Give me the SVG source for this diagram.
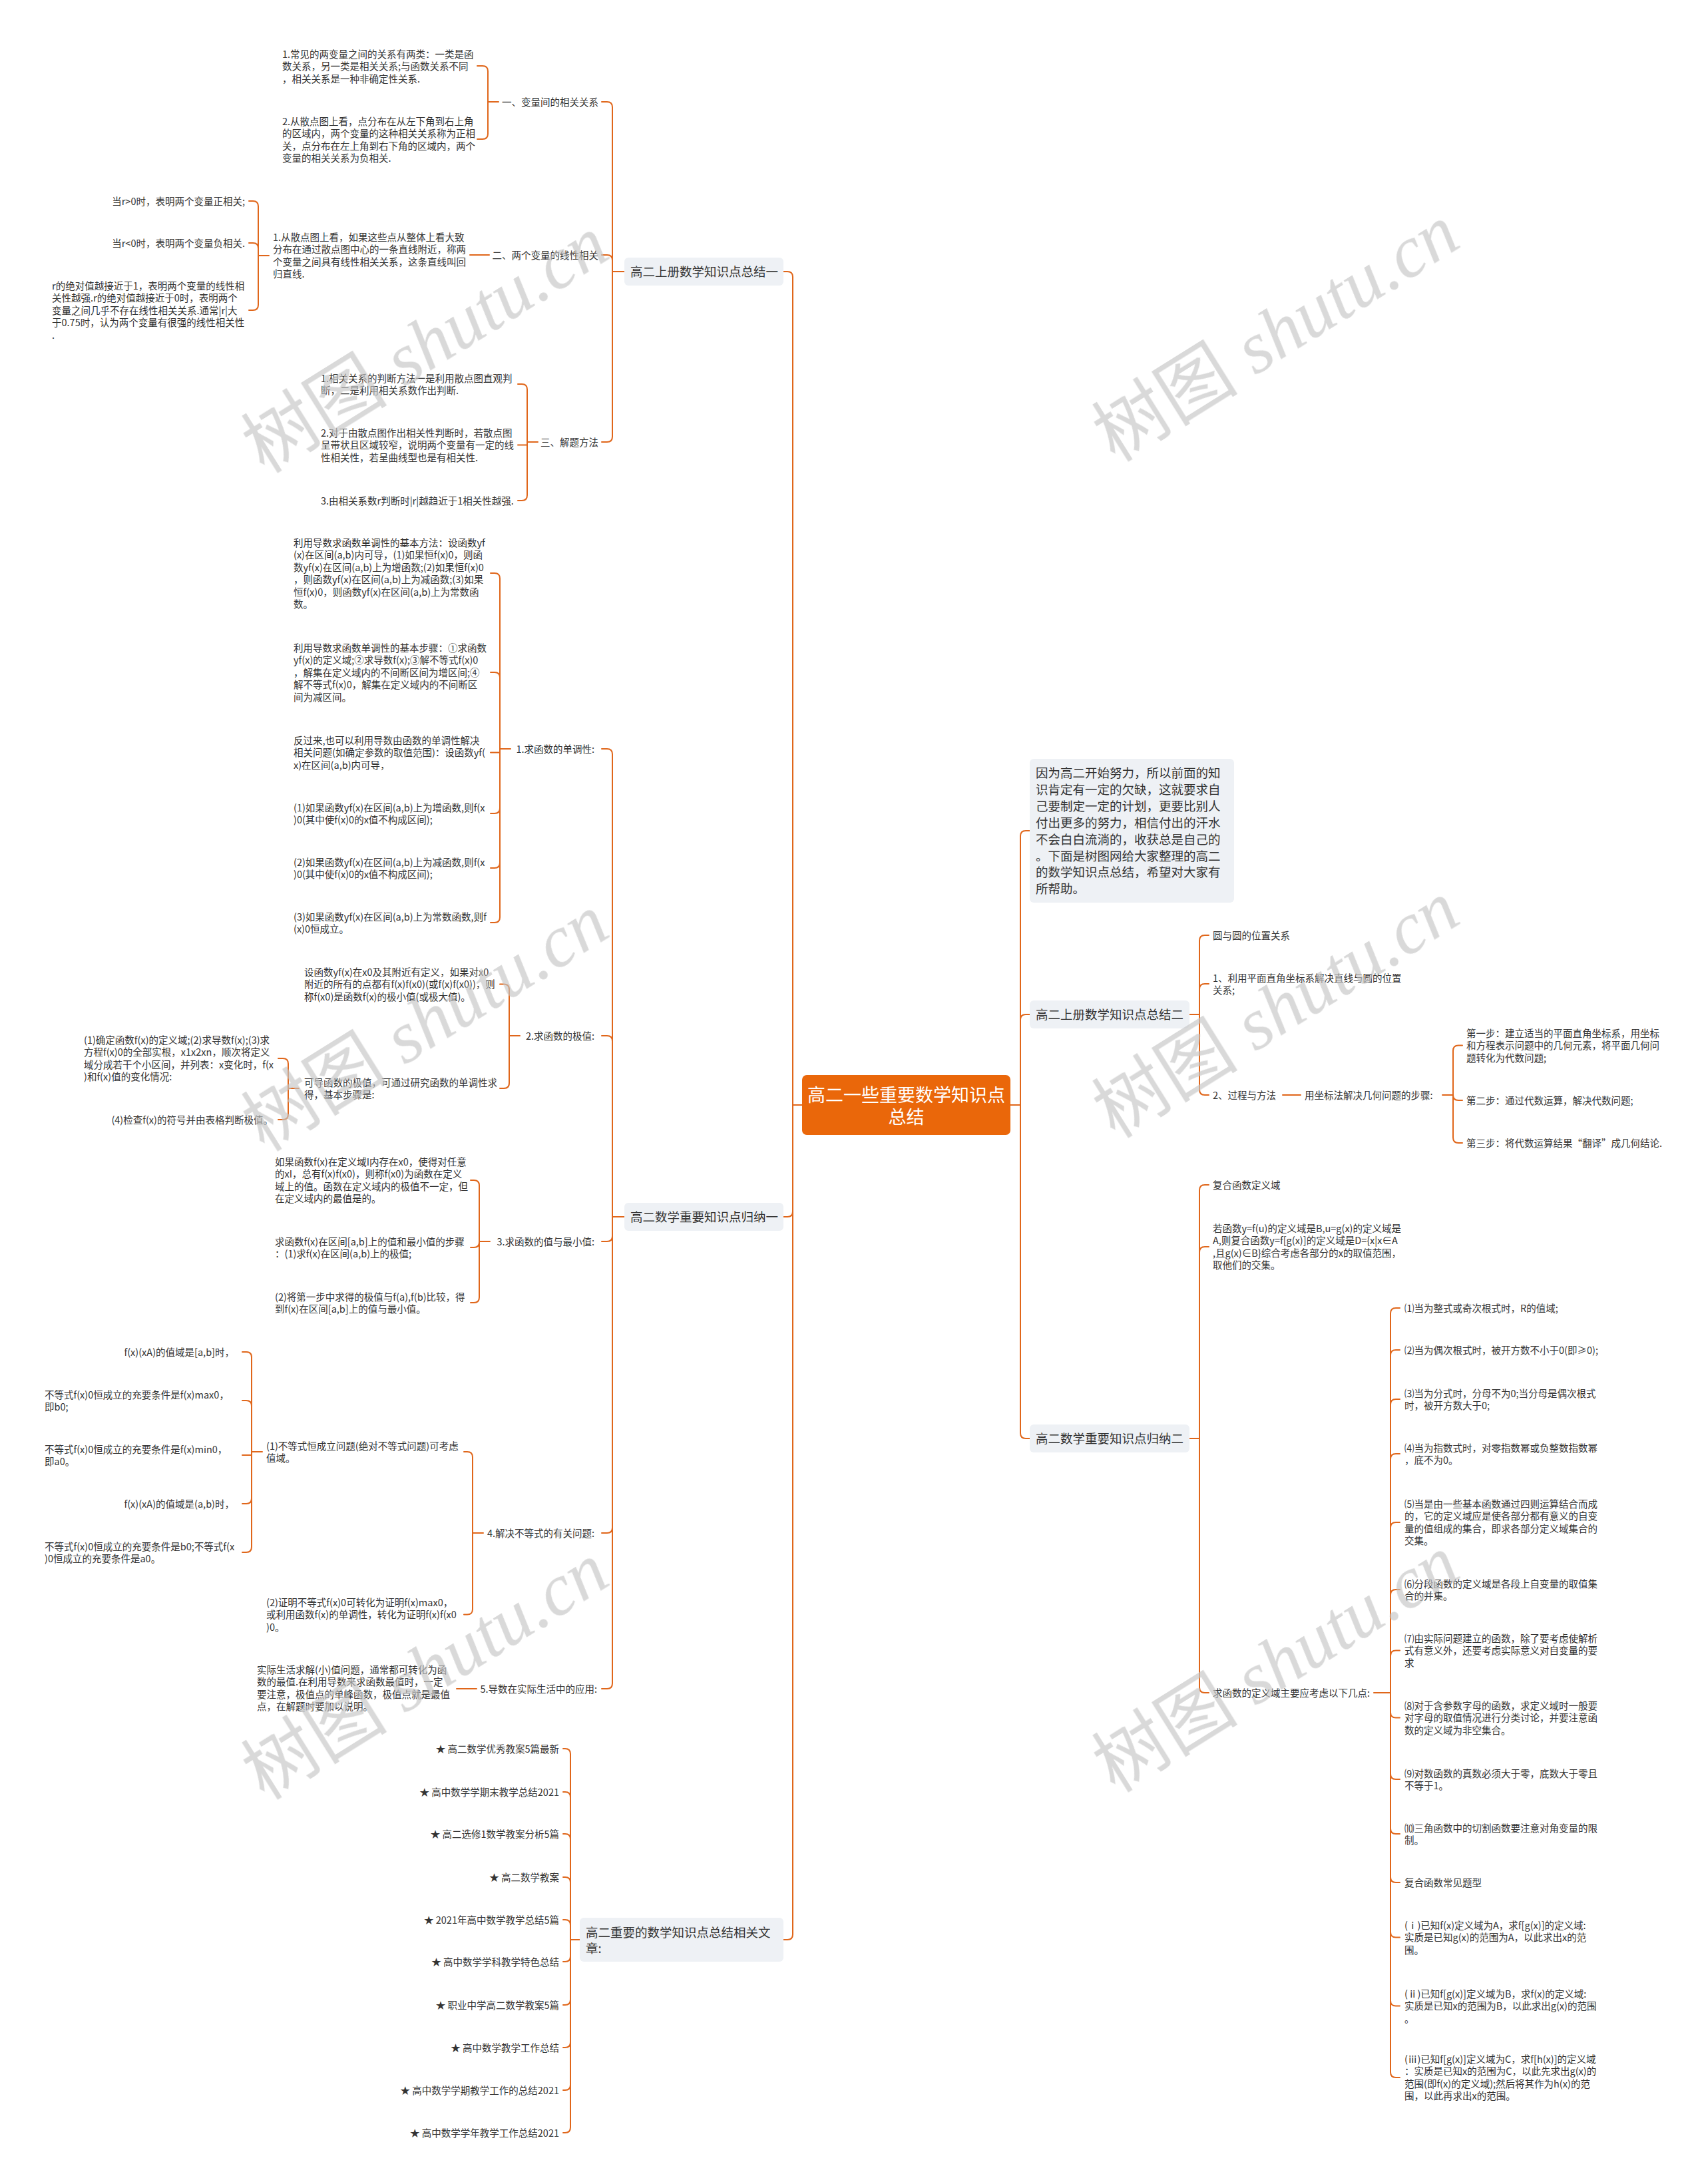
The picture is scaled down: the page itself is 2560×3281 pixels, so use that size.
<svg xmlns="http://www.w3.org/2000/svg" width="2560" height="3281" viewBox="0 0 2560 3281">
<defs>
<style>
.s{font-family:"Noto Sans CJK SC","Noto Sans",sans-serif;font-size:14.5px;fill:#333}
.m{font-size:18.5px}
.e{text-anchor:end}
.lk{fill:none;stroke:#E0661A;stroke-width:2;stroke-linecap:round;stroke-linejoin:round}
.box{fill:#EEF1F5}
.root{fill:#EA670A}
.rt{font-family:"Noto Sans CJK SC","Noto Sans",sans-serif;font-size:27px;fill:#fff;text-anchor:middle}
.wm{font-family:"Liberation Serif",serif;font-style:italic;font-size:110px;fill:#c4c4c4;opacity:.65;text-anchor:middle}
.wc{font-family:"Noto Sans CJK SC",sans-serif;font-style:normal}
</style>
</defs>
<rect width="2560" height="3281" fill="#fff"/>

<g id="connectors" class="lk">
<path d="M1205 1660H1191M1191 1660V416Q1191 408 1183 408H1177M1191 1660V1820Q1191 1828 1183 1828H1177M1191 1660V2906Q1191 2914 1183 2914H1177"/>
<path d="M1518 1660H1533M1533 1660V1256Q1533 1248 1541 1248H1547M1533 1660V1532Q1533 1524 1541 1524H1547M1533 1660V2153Q1533 2161 1541 2161H1547"/>
<path d="M938 408H920M920 408V161Q920 153 912 153H904M920 408V391Q920 383 912 383H904M920 408V656Q920 664 912 664H904"/>
<path d="M749 153H733M733 153V107Q733 99 725 99H717M733 153V201Q733 209 725 209H717"/>
<path d="M735 383H706"/>
<path d="M404 384H388M388 384V310Q388 302 380 302H374M388 384V373Q388 365 380 365H374M388 384V458Q388 466 380 466H374"/>
<path d="M808 664H792M792 664V668.5H778M792 664V585Q792 577 784 577H778M792 664V744Q792 752 784 752H778"/>
<path d="M938 1828H920M920 1828V1133Q920 1125 912 1125H904M920 1828V1564Q920 1556 912 1556H904M920 1828V1857Q920 1865 912 1865H904M920 1828V2295Q920 2303 912 2303H904M920 1828V2529Q920 2537 912 2537H904"/>
<path d="M767 1125H751M751 1125V869Q751 861 743 861H737M751 1125V1018Q751 1010 743 1010H737M751 1125V1130.5H737M751 1125V1214Q751 1222 743 1222H737M751 1125V1296Q751 1304 743 1304H737M751 1125V1378Q751 1386 743 1386H737"/>
<path d="M781 1556H765M765 1556V1486.5Q765 1478.5 757 1478.5H751M765 1556V1627Q765 1635 757 1635H751"/>
<path d="M449 1635H433M433 1635V1598Q433 1590 425 1590H418M433 1635V1674Q433 1682 425 1682H418"/>
<path d="M736 1865H720M720 1865V1781Q720 1773 712 1773H707M720 1865V1866Q720 1874 712 1874H707M720 1865V1949Q720 1957 712 1957H707"/>
<path d="M726 2303H710M710 2303V2189Q710 2181 702 2181H697M710 2303V2417.5Q710 2425.5 702 2425.5H697"/>
<path d="M394 2181H378M378 2181V2039Q378 2031 370 2031H364M378 2181V2112Q378 2104 370 2104H364M378 2181V2186H364M378 2181V2251Q378 2259 370 2259H364M378 2181V2324Q378 2332 370 2332H364"/>
<path d="M716 2537H686"/>
<path d="M871 2914H857M857 2914V2635Q857 2627 849 2627H846M857 2914V2700Q857 2692 849 2692H846M857 2914V2763Q857 2755 849 2755H846M857 2914V2828Q857 2820 849 2820H846M857 2914V2892Q857 2884 849 2884H846M857 2914V2939Q857 2947 849 2947H846M857 2914V3004Q857 3012 849 3012H846M857 2914V3068Q857 3076 849 3076H846M857 2914V3132Q857 3140 849 3140H846M857 2914V3196Q857 3204 849 3204H846"/>
<path d="M1787 1524H1802M1802 1524V1413Q1802 1405 1810 1405H1816M1802 1524V1486Q1802 1478 1810 1478H1816M1802 1524V1637Q1802 1645 1810 1645H1816"/>
<path d="M1927 1645H1954"/>
<path d="M2167 1645H2183M2183 1645V1578.5Q2183 1570.5 2191 1570.5H2197M2183 1645Q2183 1653 2191 1653H2197M2183 1645V1709Q2183 1717 2191 1717H2197"/>
<path d="M1787 2161H1802M1802 2161V1788Q1802 1780 1810 1780H1816M1802 2161V1881Q1802 1873 1810 1873H1816M1802 2161V2535Q1802 2543 1810 2543H1816"/>
<path d="M2064 2543H2089M2089 2543V1973Q2089 1965 2097 1965H2103M2089 2543V2036Q2089 2028 2097 2028H2103M2089 2543V2110Q2089 2102 2097 2102H2103M2089 2543V2192Q2089 2184 2097 2184H2103M2089 2543V2295Q2089 2287 2097 2287H2103M2089 2543V2396Q2089 2388 2097 2388H2103M2089 2543V2487.5Q2089 2479.5 2097 2479.5H2103M2089 2543V2572.5Q2089 2580.5 2097 2580.5H2103M2089 2543V2665Q2089 2673 2097 2673H2103M2089 2543V2747Q2089 2755 2097 2755H2103M2089 2543V2820Q2089 2828 2097 2828H2103M2089 2543V2902.5Q2089 2910.5 2097 2910.5H2103M2089 2543V3005.5Q2089 3013.5 2097 3013.5H2103M2089 2543V3113Q2089 3121 2097 3121H2103"/>
</g>

<g id="root">
<rect class="root" x="1205" y="1615" width="313" height="90" rx="7"/>
<text class="rt"><tspan x="1361.5" y="1655">高二一些重要数学知识点</tspan><tspan x="1361.5" y="1688">总结</tspan></text>
</g>

<g id="n_a">
<rect class="box" x="938" y="387" width="239" height="42" rx="6"/>
<text class="s m" x="947" y="415">高二上册数学知识点总结一</text>
</g>
<g id="n_a1"><text class="s e" x="899" y="158.5">一、变量间的相关关系</text></g>
<g id="n_a1_1"><text class="s"><tspan x="424" y="86.5">1.常见的两变量之间的关系有两类：一类是函</tspan><tspan x="424" y="105">数关系，另一类是相关关系;与函数关系不同</tspan><tspan x="424" y="123.5">，相关关系是一种非确定性关系.</tspan></text></g>
<g id="n_a1_2"><text class="s"><tspan x="424" y="187.5">2.从散点图上看，点分布在从左下角到右上角</tspan><tspan x="424" y="206">的区域内，两个变量的这种相关关系称为正相</tspan><tspan x="424" y="224.5">关，点分布在左上角到右下角的区域内，两个</tspan><tspan x="424" y="243">变量的相关关系为负相关.</tspan></text></g>
<g id="n_a2"><text class="s e" x="899" y="388.5">二、两个变量的线性相关</text></g>
<g id="n_a2_1"><text class="s"><tspan x="410" y="361.5">1.从散点图上看，如果这些点从整体上看大致</tspan><tspan x="410" y="380">分布在通过散点图中心的一条直线附近，称两</tspan><tspan x="410" y="398.5">个变量之间具有线性相关关系，这条直线叫回</tspan><tspan x="410" y="417">归直线.</tspan></text></g>
<g id="n_a2_1_1"><text class="s e" x="368" y="307.5">当r&gt;0时，表明两个变量正相关;</text></g>
<g id="n_a2_1_2"><text class="s e" x="368" y="370.5">当r&lt;0时，表明两个变量负相关.</text></g>
<g id="n_a2_1_3"><text class="s"><tspan x="78" y="434.5">r的绝对值越接近于1，表明两个变量的线性相</tspan><tspan x="78" y="453">关性越强.r的绝对值越接近于0时，表明两个</tspan><tspan x="78" y="471.5">变量之间几乎不存在线性相关关系.通常|r|大</tspan><tspan x="78" y="490">于0.75时，认为两个变量有很强的线性相关性</tspan><tspan x="78" y="508.5">.</tspan></text></g>
<g id="n_a3"><text class="s e" x="899" y="669.5">三、解题方法</text></g>
<g id="n_a3_1"><text class="s"><tspan x="482" y="573.5">1.相关关系的判断方法一是利用散点图直观判</tspan><tspan x="482" y="592">断，二是利用相关系数作出判断.</tspan></text></g>
<g id="n_a3_2"><text class="s"><tspan x="482" y="655.5">2.对于由散点图作出相关性判断时，若散点图</tspan><tspan x="482" y="674">呈带状且区域较窄，说明两个变量有一定的线</tspan><tspan x="482" y="692.5">性相关性，若呈曲线型也是有相关性.</tspan></text></g>
<g id="n_a3_3"><text class="s" x="482" y="757.5">3.由相关系数r判断时|r|越趋近于1相关性越强.</text></g>

<g id="n_b">
<rect class="box" x="938" y="1807" width="239" height="42" rx="6"/>
<text class="s m" x="947" y="1835">高二数学重要知识点归纳一</text>
</g>
<g id="n_b1"><text class="s e" x="893" y="1130.5">1.求函数的单调性:</text></g>
<g id="n_b1_1"><text class="s"><tspan x="441" y="820.5">利用导数求函数单调性的基本方法：设函数yf</tspan><tspan x="441" y="839">(x)在区间(a,b)内可导，(1)如果恒f(x)0，则函</tspan><tspan x="441" y="857.5">数yf(x)在区间(a,b)上为增函数;(2)如果恒f(x)0</tspan><tspan x="441" y="876">，则函数yf(x)在区间(a,b)上为减函数;(3)如果</tspan><tspan x="441" y="894.5">恒f(x)0，则函数yf(x)在区间(a,b)上为常数函</tspan><tspan x="441" y="913">数。</tspan></text></g>
<g id="n_b1_2"><text class="s"><tspan x="441" y="978.5">利用导数求函数单调性的基本步骤：①求函数</tspan><tspan x="441" y="997">yf(x)的定义域;②求导数f(x);③解不等式f(x)0</tspan><tspan x="441" y="1015.5">，解集在定义域内的不间断区间为增区间;④</tspan><tspan x="441" y="1034">解不等式f(x)0，解集在定义域内的不间断区</tspan><tspan x="441" y="1052.5">间为减区间。</tspan></text></g>
<g id="n_b1_3"><text class="s"><tspan x="441" y="1117.5">反过来,也可以利用导数由函数的单调性解决</tspan><tspan x="441" y="1136">相关问题(如确定参数的取值范围)：设函数yf(</tspan><tspan x="441" y="1154.5">x)在区间(a,b)内可导，</tspan></text></g>
<g id="n_b1_4"><text class="s"><tspan x="441" y="1218.5">(1)如果函数yf(x)在区间(a,b)上为增函数,则f(x</tspan><tspan x="441" y="1237">)0(其中使f(x)0的x值不构成区间);</tspan></text></g>
<g id="n_b1_5"><text class="s"><tspan x="441" y="1300.5">(2)如果函数yf(x)在区间(a,b)上为减函数,则f(x</tspan><tspan x="441" y="1319">)0(其中使f(x)0的x值不构成区间);</tspan></text></g>
<g id="n_b1_6"><text class="s"><tspan x="441" y="1382.5">(3)如果函数yf(x)在区间(a,b)上为常数函数,则f</tspan><tspan x="441" y="1401">(x)0恒成立。</tspan></text></g>
<g id="n_b2"><text class="s e" x="893" y="1561.5">2.求函数的极值:</text></g>
<g id="n_b2_1"><text class="s"><tspan x="457" y="1465.5">设函数yf(x)在x0及其附近有定义，如果对x0</tspan><tspan x="457" y="1484">附近的所有的点都有f(x)f(x0)(或f(x)f(x0))，则</tspan><tspan x="457" y="1502.5">称f(x0)是函数f(x)的极小值(或极大值)。</tspan></text></g>
<g id="n_b2_2"><text class="s"><tspan x="457" y="1631.5">可导函数的极值，可通过研究函数的单调性求</tspan><tspan x="457" y="1650">得，基本步骤是:</tspan></text></g>
<g id="n_b2_2_1"><text class="s"><tspan x="126" y="1567.5">(1)确定函数f(x)的定义域;(2)求导数f(x);(3)求</tspan><tspan x="126" y="1586">方程f(x)0的全部实根，x1x2xn，顺次将定义</tspan><tspan x="126" y="1604.5">域分成若干个小区间，并列表：x变化时，f(x</tspan><tspan x="126" y="1623">)和f(x)值的变化情况:</tspan></text></g>
<g id="n_b2_2_2"><text class="s e" x="410" y="1687.5">(4)检查f(x)的符号并由表格判断极值。</text></g>
<g id="n_b3"><text class="s e" x="893" y="1870.5">3.求函数的值与最小值:</text></g>
<g id="n_b3_1"><text class="s"><tspan x="413" y="1750.5">如果函数f(x)在定义域I内存在x0，使得对任意</tspan><tspan x="413" y="1769">的xI，总有f(x)f(x0)，则称f(x0)为函数在定义</tspan><tspan x="413" y="1787.5">域上的值。函数在定义域内的极值不一定，但</tspan><tspan x="413" y="1806">在定义域内的最值是的。</tspan></text></g>
<g id="n_b3_2"><text class="s"><tspan x="413" y="1870.5">求函数f(x)在区间[a,b]上的值和最小值的步骤</tspan><tspan x="413" y="1889">：(1)求f(x)在区间(a,b)上的极值;</tspan></text></g>
<g id="n_b3_3"><text class="s"><tspan x="413" y="1953.5">(2)将第一步中求得的极值与f(a),f(b)比较，得</tspan><tspan x="413" y="1972">到f(x)在区间[a,b]上的值与最小值。</tspan></text></g>
<g id="n_b4"><text class="s e" x="893" y="2308.5">4.解决不等式的有关问题:</text></g>
<g id="n_b4_1"><text class="s"><tspan x="400" y="2177.5">(1)不等式恒成立问题(绝对不等式问题)可考虑</tspan><tspan x="400" y="2196">值域。</tspan></text></g>
<g id="n_b4_1_1"><text class="s e" x="352" y="2036.5">f(x)(xA)的值域是[a,b]时，</text></g>
<g id="n_b4_1_2"><text class="s"><tspan x="67" y="2100.5">不等式f(x)0恒成立的充要条件是f(x)max0，</tspan><tspan x="67" y="2119">即b0;</tspan></text></g>
<g id="n_b4_1_3"><text class="s"><tspan x="67" y="2182.5">不等式f(x)0恒成立的充要条件是f(x)min0，</tspan><tspan x="67" y="2201">即a0。</tspan></text></g>
<g id="n_b4_1_4"><text class="s e" x="352" y="2264.5">f(x)(xA)的值域是(a,b)时，</text></g>
<g id="n_b4_1_5"><text class="s"><tspan x="67" y="2328.5">不等式f(x)0恒成立的充要条件是b0;不等式f(x</tspan><tspan x="67" y="2347">)0恒成立的充要条件是a0。</tspan></text></g>
<g id="n_b4_2"><text class="s"><tspan x="400" y="2412.5">(2)证明不等式f(x)0可转化为证明f(x)max0，</tspan><tspan x="400" y="2431">或利用函数f(x)的单调性，转化为证明f(x)f(x0</tspan><tspan x="400" y="2449.5">)0。</tspan></text></g>
<g id="n_b5"><text class="s e" x="897" y="2542.5">5.导数在实际生活中的应用:</text></g>
<g id="n_b5_1"><text class="s"><tspan x="386" y="2513.5">实际生活求解(小)值问题，通常都可转化为函</tspan><tspan x="386" y="2532">数的最值.在利用导数来求函数最值时，一定</tspan><tspan x="386" y="2550.5">要注意，极值点的单峰函数，极值点就是最值</tspan><tspan x="386" y="2569">点，在解题时要加以说明。</tspan></text></g>

<g id="n_c">
<rect class="box" x="871" y="2881" width="306" height="66" rx="6"/>
<text class="s m"><tspan x="880" y="2910">高二重要的数学知识点总结相关文</tspan><tspan x="880" y="2934">章:</tspan></text>
</g>
<g id="n_c_list" class="s e">
<text x="840" y="2632.5">★ 高二数学优秀教案5篇最新</text>
<text x="840" y="2697.5">★ 高中数学学期末教学总结2021</text>
<text x="840" y="2760.5">★ 高二选修1数学教案分析5篇</text>
<text x="840" y="2825.5">★ 高二数学教案</text>
<text x="840" y="2889.5">★ 2021年高中数学教学总结5篇</text>
<text x="840" y="2952.5">★ 高中数学学科教学特色总结</text>
<text x="840" y="3017.5">★ 职业中学高二数学教案5篇</text>
<text x="840" y="3081.5">★ 高中数学教学工作总结</text>
<text x="840" y="3145.5">★ 高中数学学期教学工作的总结2021</text>
<text x="840" y="3209.5">★ 高中数学学年教学工作总结2021</text>
</g>

<g id="n_intro">
<rect class="box" x="1547" y="1140" width="307" height="216" rx="6"/>
<text class="s m"><tspan x="1556" y="1168">因为高二开始努力，所以前面的知</tspan><tspan x="1556" y="1193">识肯定有一定的欠缺，这就要求自</tspan><tspan x="1556" y="1218">己要制定一定的计划，更要比别人</tspan><tspan x="1556" y="1243">付出更多的努力，相信付出的汗水</tspan><tspan x="1556" y="1268">不会白白流淌的，收获总是自己的</tspan><tspan x="1556" y="1292.5">。下面是树图网给大家整理的高二</tspan><tspan x="1556" y="1317">的数学知识点总结，希望对大家有</tspan><tspan x="1556" y="1342">所帮助。</tspan></text>
</g>

<g id="n_r2">
<rect class="box" x="1547" y="1503" width="240" height="42" rx="6"/>
<text class="s m" x="1556" y="1531">高二上册数学知识点总结二</text>
</g>
<g id="n_r2_1"><text class="s" x="1822" y="1410.5">圆与圆的位置关系</text></g>
<g id="n_r2_2"><text class="s"><tspan x="1822" y="1474.5">1、利用平面直角坐标系解决直线与圆的位置</tspan><tspan x="1822" y="1493">关系;</tspan></text></g>
<g id="n_r2_3"><text class="s" x="1822" y="1650.5">2、过程与方法</text></g>
<g id="n_r2_3_0"><text class="s" x="1960" y="1650.5">用坐标法解决几何问题的步骤:</text></g>
<g id="n_r2_3_1"><text class="s"><tspan x="2203" y="1557.5">第一步：建立适当的平面直角坐标系，用坐标</tspan><tspan x="2203" y="1576">和方程表示问题中的几何元素，将平面几何问</tspan><tspan x="2203" y="1594.5">题转化为代数问题;</tspan></text></g>
<g id="n_r2_3_2"><text class="s" x="2203" y="1658.5">第二步：通过代数运算，解决代数问题;</text></g>
<g id="n_r2_3_3"><text class="s" x="2203" y="1722.5">第三步：将代数运算结果“翻译”成几何结论.</text></g>

<g id="n_r3">
<rect class="box" x="1547" y="2140" width="240" height="42" rx="6"/>
<text class="s m" x="1556" y="2168">高二数学重要知识点归纳二</text>
</g>
<g id="n_r3_1"><text class="s" x="1822" y="1785.5">复合函数定义域</text></g>
<g id="n_r3_2"><text class="s"><tspan x="1822" y="1850.5">若函数y=f(u)的定义域是B,u=g(x)的定义域是</tspan><tspan x="1822" y="1869">A,则复合函数y=f[g(x)]的定义域是D={x|x∈A</tspan><tspan x="1822" y="1887.5">,且g(x)∈B}综合考虑各部分的x的取值范围，</tspan><tspan x="1822" y="1906">取他们的交集。</tspan></text></g>
<g id="n_r3_3"><text class="s" x="1822" y="2548.5">求函数的定义域主要应考虑以下几点:</text></g>
<g id="n_r3_3_1"><text class="s" x="2110" y="1970.5">⑴当为整式或奇次根式时，R的值域;</text></g>
<g id="n_r3_3_2"><text class="s" x="2110" y="2033.5">⑵当为偶次根式时，被开方数不小于0(即≥0);</text></g>
<g id="n_r3_3_3"><text class="s"><tspan x="2110" y="2098.5">⑶当为分式时，分母不为0;当分母是偶次根式</tspan><tspan x="2110" y="2117">时，被开方数大于0;</tspan></text></g>
<g id="n_r3_3_4"><text class="s"><tspan x="2110" y="2180.5">⑷当为指数式时，对零指数幂或负整数指数幂</tspan><tspan x="2110" y="2199">，底不为0。</tspan></text></g>
<g id="n_r3_3_5"><text class="s"><tspan x="2110" y="2264.5">⑸当是由一些基本函数通过四则运算结合而成</tspan><tspan x="2110" y="2283">的，它的定义域应是使各部分都有意义的自变</tspan><tspan x="2110" y="2301.5">量的值组成的集合，即求各部分定义域集合的</tspan><tspan x="2110" y="2320">交集。</tspan></text></g>
<g id="n_r3_3_6"><text class="s"><tspan x="2110" y="2384.5">⑹分段函数的定义域是各段上自变量的取值集</tspan><tspan x="2110" y="2403">合的并集。</tspan></text></g>
<g id="n_r3_3_7"><text class="s"><tspan x="2110" y="2466.5">⑺由实际问题建立的函数，除了要考虑使解析</tspan><tspan x="2110" y="2485">式有意义外，还要考虑实际意义对自变量的要</tspan><tspan x="2110" y="2503.5">求</tspan></text></g>
<g id="n_r3_3_8"><text class="s"><tspan x="2110" y="2567.5">⑻对于含参数字母的函数，求定义域时一般要</tspan><tspan x="2110" y="2586">对字母的取值情况进行分类讨论，并要注意函</tspan><tspan x="2110" y="2604.5">数的定义域为非空集合。</tspan></text></g>
<g id="n_r3_3_9"><text class="s"><tspan x="2110" y="2669.5">⑼对数函数的真数必须大于零，底数大于零且</tspan><tspan x="2110" y="2688">不等于1。</tspan></text></g>
<g id="n_r3_3_10"><text class="s"><tspan x="2110" y="2751.5">⑽三角函数中的切割函数要注意对角变量的限</tspan><tspan x="2110" y="2770">制。</tspan></text></g>
<g id="n_r3_3_11"><text class="s" x="2110" y="2833.5">复合函数常见题型</text></g>
<g id="n_r3_3_12"><text class="s"><tspan x="2110" y="2897.5">(ⅰ)已知f(x)定义域为A，求f[g(x)]的定义域:</tspan><tspan x="2110" y="2916">实质是已知g(x)的范围为A，以此求出x的范</tspan><tspan x="2110" y="2934.5">围。</tspan></text></g>
<g id="n_r3_3_13"><text class="s"><tspan x="2110" y="3000.5">(ⅱ)已知f[g(x)]定义域为B，求f(x)的定义域:</tspan><tspan x="2110" y="3019">实质是已知x的范围为B，以此求出g(x)的范围</tspan><tspan x="2110" y="3037.5">。</tspan></text></g>
<g id="n_r3_3_14"><text class="s"><tspan x="2110" y="3098.5">(ⅲ)已知f[g(x)]定义域为C，求f[h(x)]的定义域</tspan><tspan x="2110" y="3117">：实质是已知x的范围为C，以此先求出g(x)的</tspan><tspan x="2110" y="3135.5">范围(即f(x)的定义域);然后将其作为h(x)的范</tspan><tspan x="2110" y="3154">围，以此再求出x的范围。</tspan></text></g>

<g id="watermarks" class="wm">
<text x="640" y="555" transform="rotate(-32 640 519)"><tspan class="wc">树图</tspan> shutu.cn</text>
<text x="1918" y="538" transform="rotate(-32 1918 502)"><tspan class="wc">树图</tspan> shutu.cn</text>
<text x="640" y="1574" transform="rotate(-32 640 1538)"><tspan class="wc">树图</tspan> shutu.cn</text>
<text x="1918" y="1554" transform="rotate(-32 1918 1518)"><tspan class="wc">树图</tspan> shutu.cn</text>
<text x="640" y="2548" transform="rotate(-32 640 2512)"><tspan class="wc">树图</tspan> shutu.cn</text>
<text x="1918" y="2537" transform="rotate(-32 1918 2501)"><tspan class="wc">树图</tspan> shutu.cn</text>
</g>
</svg>
